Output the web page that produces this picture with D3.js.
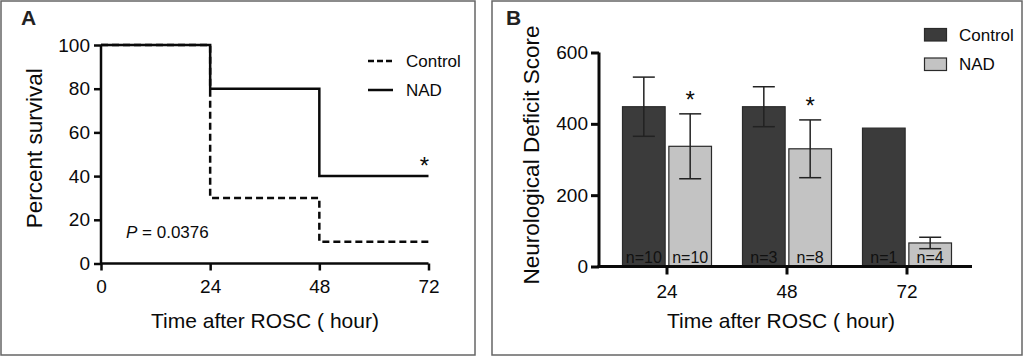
<!DOCTYPE html>
<html><head><meta charset="utf-8">
<script src="https://cdn.jsdelivr.net/npm/d3@7"></script>
<style>
body{margin:0;background:#fff;}
svg{display:block;font-family:Arial,"Liberation Sans",Helvetica,sans-serif;}
</style></head>
<body><svg id="c" width="1024" height="357"></svg>
<script>
// ---- Panel A data (Kaplan–Meier survival) ----
const survTimes = [0, 24, 48, 72];
const survControl = [100, 30, 10, 10];
const survNAD = [100, 80, 40, 40];
const survXTicks = [0, 24, 48, 72];
const survYTicks = [0, 20, 40, 60, 80, 100];

// ---- Panel B data (neurological deficit score) ----
const categories = ["24", "48", "72"];
const groups = ["Control", "NAD"];
const controlMean = [448, 448, 388];
const controlErr = [83, 56, 0];
const nadMean = [337, 330, 66];
const nadErr = [91, 81, 16];
const controlN = ["n=10", "n=3", "n=1"];
const nadN = ["n=10", "n=8", "n=4"];
const scoreTicks = [0, 200, 400, 600];

const svg = d3.select("#c");
const ink = "#0a0a0a";

// Panel frames
svg.append("rect").attr("x",1).attr("y",1).attr("width",474).attr("height",354)
  .attr("fill","none").attr("stroke","#666").attr("stroke-width",1.5);
svg.append("rect").attr("x",492).attr("y",1).attr("width",530).attr("height",354)
  .attr("fill","none").attr("stroke","#666").attr("stroke-width",1.5);

// Panel labels
svg.append("text").attr("x",21).attr("y",25).text("A")
  .attr("font-size",21).attr("font-weight","bold").attr("fill","#222");
svg.append("text").attr("x",506).attr("y",25).text("B")
  .attr("font-size",21).attr("font-weight","bold").attr("fill","#222");

// ================= Panel A =================
const xA = d3.scaleLinear().domain([0,72]).range([101,428.5]);
const yA = d3.scaleLinear().domain([0,100]).range([263.5,45]);
const gA = svg.append("g");

const axA_y = d3.axisLeft(yA).tickValues(survYTicks).tickSize(7).tickPadding(4);
const gyA = gA.append("g").attr("transform",`translate(${xA(0)},0)`).call(axA_y);
const axA_x = d3.axisBottom(xA).tickValues(survXTicks).tickSize(7).tickPadding(9);
const gxA = gA.append("g").attr("transform",`translate(0,${yA(0)})`).call(axA_x);
[gyA,gxA].forEach(g=>{
  g.select(".domain").attr("stroke",ink).attr("stroke-width",2.5);
  g.selectAll(".tick line").attr("stroke",ink).attr("stroke-width",2.5);
  g.selectAll(".tick text").attr("font-size",19).attr("fill",ink)
    .attr("font-family","Arial, 'Liberation Sans', sans-serif");
});
gyA.select(".domain").attr("d",`M0,${yA(100)}V${yA(0)}`);
gxA.select(".domain").attr("d",`M${xA(0)},0H${xA(72)}`);

const line = d3.line().x((d,i)=>xA(survTimes[i])).y(d=>yA(d)).curve(d3.curveStepAfter);
gA.append("path").datum(survControl).attr("d",line).attr("fill","none")
  .attr("stroke",ink).attr("stroke-width",2.5).attr("stroke-dasharray","7,4");
gA.append("path").datum(survNAD).attr("d",line).attr("fill","none")
  .attr("stroke",ink).attr("stroke-width",2.5);

gA.append("text").attr("x",xA(72)-4).attr("y",yA(40)-2).attr("text-anchor","middle")
  .attr("font-size",24).attr("fill",ink).text("*");

const pT = gA.append("text").attr("x",126).attr("y",238).attr("font-size",17).attr("fill",ink);
pT.append("tspan").attr("font-style","italic").text("P");
pT.append("tspan").text(" = 0.0376");

// axis titles A
gA.append("text").attr("transform",`translate(42,${yA(50)-6}) rotate(-90)`)
  .attr("text-anchor","middle").attr("font-size",22.5).attr("fill",ink).text("Percent survival");
gA.append("text").attr("x",265).attr("y",327.5).attr("text-anchor","middle")
  .attr("font-size",21).attr("fill",ink).text("Time after ROSC ( hour)");

// legend A
const legA = [{name:"Control",dash:"6,3",y:61},{name:"NAD",dash:null,y:90}];
legA.forEach(l=>{
  gA.append("line").attr("x1",368).attr("x2",393).attr("y1",l.y).attr("y2",l.y)
    .attr("stroke",ink).attr("stroke-width",2.5).attr("stroke-dasharray",l.dash);
  gA.append("text").attr("x",406).attr("y",l.y+6).attr("font-size",17).attr("fill",ink).text(l.name);
});

// ================= Panel B =================
const xB = d3.scaleBand().domain(categories).range([607,967]).padding(0);
const xSub = d3.scaleBand().domain(groups).range([-44.5,44.5]).paddingInner(0.08);
const yB = d3.scaleLinear().domain([0,600]).range([266.5,52.5]);
const gB = svg.append("g");

const barData = [];
categories.forEach((c,i)=>{
  barData.push({cat:c,grp:"Control",v:controlMean[i],e:controlErr[i],n:controlN[i]});
  barData.push({cat:c,grp:"NAD",v:nadMean[i],e:nadErr[i],n:nadN[i]});
});
const fill = {Control:"#3b3b3b",NAD:"#c3c3c3"};

const bx = d=>xB(d.cat)+xB.bandwidth()/2+xSub(d.grp);
gB.selectAll("rect.bar").data(barData).enter().append("rect").attr("class","bar")
  .attr("x",bx).attr("width",xSub.bandwidth())
  .attr("y",d=>yB(d.v)).attr("height",d=>yB(0)-yB(d.v))
  .attr("fill",d=>fill[d.grp]).attr("stroke","#2a2a2a").attr("stroke-width",1.2);

// error bars
const eb = barData.filter(d=>d.e>0);
eb.forEach(d=>{
  const cx = bx(d)+xSub.bandwidth()/2;
  const g = gB.append("g").attr("stroke","#222").attr("stroke-width",1.5);
  g.append("line").attr("x1",cx).attr("x2",cx).attr("y1",yB(d.v+d.e)).attr("y2",yB(d.v-d.e));
  g.append("line").attr("x1",cx-11).attr("x2",cx+11).attr("y1",yB(d.v+d.e)).attr("y2",yB(d.v+d.e));
  g.append("line").attr("x1",cx-11).attr("x2",cx+11).attr("y1",yB(d.v-d.e)).attr("y2",yB(d.v-d.e));
});

// n labels
gB.selectAll("text.n").data(barData).enter().append("text").attr("class","n")
  .attr("x",d=>bx(d)+xSub.bandwidth()/2).attr("y",yB(0)-4).attr("text-anchor","middle")
  .attr("font-size",16).attr("fill","#111").text(d=>d.n);

// significance stars
[0,1].forEach(i=>{
  const d = barData.find(b=>b.cat===categories[i]&&b.grp==="NAD");
  gB.append("text").attr("x",bx(d)+xSub.bandwidth()/2).attr("y",yB(d.v+d.e)-6)
    .attr("text-anchor","middle").attr("font-size",24).attr("fill",ink).text("*");
});

// axes B
const gyB = gB.append("g").attr("transform","translate(599,0)")
  .call(d3.axisLeft(yB).tickValues(scoreTicks).tickSize(8).tickPadding(3));
const gxB = gB.append("g").attr("transform",`translate(0,${yB(0)})`)
  .call(d3.axisBottom(xB).tickSize(8).tickPadding(10));
[gyB,gxB].forEach(g=>{
  g.select(".domain").attr("stroke",ink).attr("stroke-width",3);
  g.selectAll(".tick line").attr("stroke",ink).attr("stroke-width",3);
  g.selectAll(".tick text").attr("font-size",19).attr("fill",ink)
    .attr("font-family","Arial, 'Liberation Sans', sans-serif");
});
gyB.select(".domain").attr("d",`M0,${yB(600)}V${yB(0)}`);
gxB.select(".domain").attr("d",`M597.5,0H972`);

gB.append("text").attr("transform",`translate(539,155) rotate(-90)`)
  .attr("text-anchor","middle").attr("font-size",22.5).attr("fill",ink).text("Neurological Deficit Score");
gB.append("text").attr("x",781).attr("y",327.5).attr("text-anchor","middle")
  .attr("font-size",21).attr("fill",ink).text("Time after ROSC ( hour)");

// legend B
groups.forEach((g,i)=>{
  const y = 28.5 + i*29.5;
  gB.append("rect").attr("x",924.5).attr("y",y).attr("width",22).attr("height",12.5)
    .attr("fill",fill[g]).attr("stroke","#2a2a2a").attr("stroke-width",1.2);
  gB.append("text").attr("x",959).attr("y",y+12).attr("font-size",17).attr("fill",ink).text(g);
});
</script></body></html>
